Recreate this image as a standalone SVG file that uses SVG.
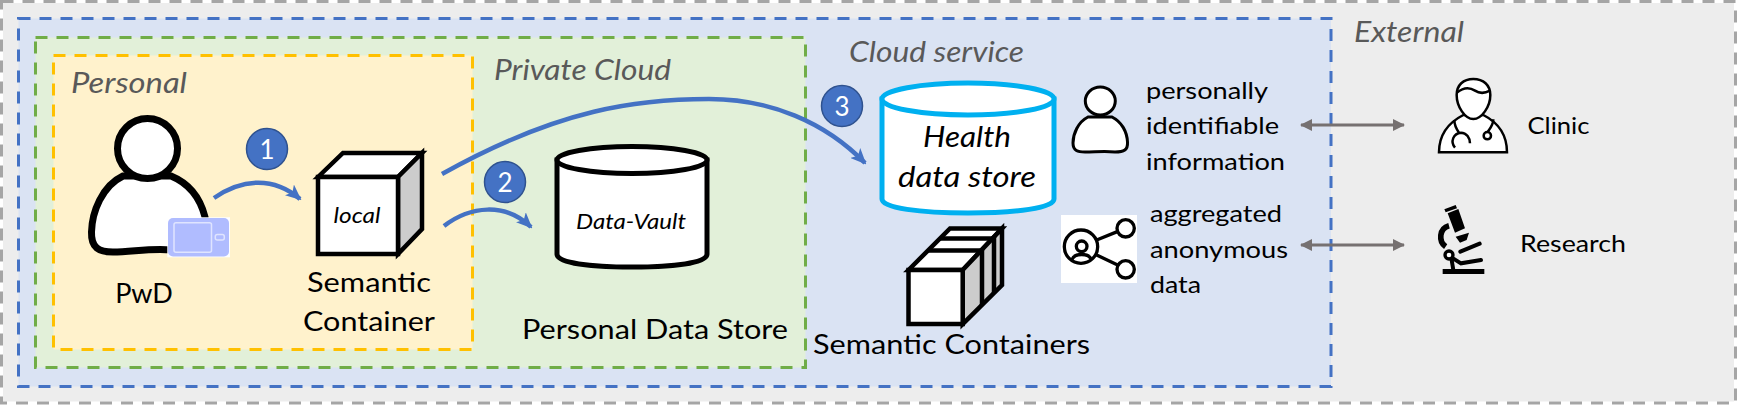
<svg xmlns="http://www.w3.org/2000/svg" width="1737" height="412" viewBox="0 0 1737 412">
<style>
text{font-family:"Lato","Liberation Sans",sans-serif;fill:#000}
.zone{stroke-width:3;stroke-dasharray:12 9}
.lab{font-style:italic;fill:#595959;font-size:28px}
.big{font-size:27px}
.mid{font-size:24px}
.it{font-style:italic;font-size:22px}
.flow{fill:none;stroke:#4472c4;stroke-width:4.5;marker-end:url(#blue)}
.num{fill:#4472c4;stroke:#2f528f;stroke-width:1.5}
.numt{fill:#fff;font-size:26px;text-anchor:middle}
.two{fill:none;stroke:#767171;stroke-width:3;marker-start:url(#greyS);marker-end:url(#grey)}
.k{stroke:#000;stroke-width:4.5;stroke-linejoin:miter}
</style>
<defs>
<marker id="blue" markerUnits="userSpaceOnUse" viewBox="0 0 16 14" refX="14" refY="7" markerWidth="16" markerHeight="14" orient="auto"><path d="M0 0L16 7L0 14L4 7z" fill="#4472c4"/></marker>
<marker id="grey" markerUnits="userSpaceOnUse" viewBox="0 0 12 12" refX="11" refY="6" markerWidth="12" markerHeight="12" orient="auto"><path d="M0 0L12 6L0 12z" fill="#767171"/></marker>
<marker id="greyS" markerUnits="userSpaceOnUse" viewBox="0 0 12 12" refX="1" refY="6" markerWidth="12" markerHeight="12" orient="auto"><path d="M12 0L0 6L12 12z" fill="#767171"/></marker>
</defs>

<g id="zone-external"><rect x="3" y="3" width="1731" height="398.500" fill="#ededed"/><rect x="1.5" y="1.5" width="1734" height="401.5" fill="none" stroke="#a5a5a5" class="zone"/><text x="1354" y="42" class="lab" textLength="110" lengthAdjust="spacingAndGlyphs">External</text></g>
<g id="zone-cloud"><rect x="18.5" y="18.5" width="1312.5" height="368" fill="#dae3f3" stroke="#4472c4" class="zone"/><text x="849" y="62" class="lab" textLength="175" lengthAdjust="spacingAndGlyphs">Cloud service</text></g>
<g id="zone-private"><rect x="35.5" y="37.5" width="770" height="330" fill="#e2f0d9" stroke="#70ad47" class="zone"/><text x="494" y="80" class="lab" textLength="177" lengthAdjust="spacingAndGlyphs">Private Cloud</text></g>
<g id="zone-personal"><rect x="53.5" y="55.5" width="419" height="294" fill="#fff2cc" stroke="#ffc000" class="zone"/><text x="71" y="93" class="lab" textLength="116" lengthAdjust="spacingAndGlyphs">Personal</text></g>

<g id="pwd">
<path d="M123 176C102 186 92 212 91.500 232C91 248 99 252 113 252C132 252 150 248 172 250L205 250L205 217C200 197 188 183 171 176Z" fill="#fff" stroke="#000" stroke-width="7"/>
<circle cx="147.500" cy="148.500" r="30" fill="#fff" stroke="#000" stroke-width="7"/>
<rect x="167.300" y="217.300" width="62.700" height="40" fill="#fff"/>
<rect x="168" y="218" width="61" height="38.500" rx="5" fill="#b0bcff"/>
<rect x="174" y="222.700" width="37.500" height="29.500" rx="2" fill="#b0bcff" stroke="#dfe4ff" stroke-width="1.500"/>
<rect x="215.300" y="234.500" width="9" height="5.500" rx="2" fill="#b0bcff" stroke="#dfe4ff" stroke-width="1.500"/>
<text x="144" y="303" class="big" text-anchor="middle">PwD</text>
</g>

<g id="semantic-container">
<path d="M318 177L343 153L422 153L398 177Z" fill="#fff" class="k"/>
<path d="M398 177L422 153L422 229L398 254Z" fill="#ccc" class="k"/>
<rect x="318" y="177" width="80" height="77" fill="#fff" class="k"/>
<text x="357" y="223" class="it" text-anchor="middle" textLength="47" lengthAdjust="spacingAndGlyphs">local</text>
<text x="369" y="292" class="big" text-anchor="middle" textLength="124" lengthAdjust="spacingAndGlyphs">Semantic</text>
<text x="369" y="331" class="big" text-anchor="middle" textLength="132" lengthAdjust="spacingAndGlyphs">Container</text>
</g>

<g id="data-vault">
<path d="M557 160V254C557 263 590 267 632 267C674 267 707 263 707 254V160Z" fill="#fff" stroke="#000" stroke-width="5"/>
<ellipse cx="632" cy="160" rx="75" ry="13.500" fill="#fff" stroke="#000" stroke-width="5"/>
<text x="631" y="229" class="it" text-anchor="middle" textLength="110" lengthAdjust="spacingAndGlyphs">Data-Vault</text>
<text x="522" y="339" class="big" textLength="266" lengthAdjust="spacingAndGlyphs">Personal Data Store</text>
</g>

<g id="health-data-store">
<path d="M882 99V199C882 208 920 213 968 213C1016 213 1054 208 1054 199V99Z" fill="#fff" stroke="#00b0f0" stroke-width="5"/>
<ellipse cx="968" cy="99" rx="86" ry="16" fill="#fff" stroke="#00b0f0" stroke-width="5"/>
<text x="967" y="147" font-size="29" font-style="italic" text-anchor="middle" textLength="88" lengthAdjust="spacingAndGlyphs">Health</text>
<text x="967" y="187" font-size="29" font-style="italic" text-anchor="middle" textLength="138" lengthAdjust="spacingAndGlyphs">data store</text>
</g>

<g id="semantic-containers">
<path d="M908.500 270L950 228.500L1002 228.500L962.700 270Z" fill="#fff" class="k"/>
<path d="M962.700 270L1002 228.500V285L962.700 324Z" fill="#ccc" class="k"/>
<path d="M928 250.500H982V305M940 238.500H994V293" fill="none" class="k"/>
<rect x="908.500" y="270" width="54.200" height="54" fill="#fff" class="k"/>
<text x="813" y="354" class="big" textLength="277" lengthAdjust="spacingAndGlyphs">Semantic Containers</text>
</g>

<g id="pii">
<path d="M1088 117C1078 122 1073 134 1073 143C1073 151 1078 152 1085 152C1095 152 1105 151 1115 152C1124 152 1128 150 1127.500 142C1127 132 1122 122 1112 117Z" fill="#fff" stroke="#000" stroke-width="3"/>
<ellipse cx="1100.300" cy="101" rx="15" ry="14" fill="#fff" stroke="#000" stroke-width="3"/>
<text x="1146" y="99" class="mid" textLength="122" lengthAdjust="spacingAndGlyphs">personally</text>
<text x="1146" y="134" class="mid" textLength="133" lengthAdjust="spacingAndGlyphs">identifiable</text>
<text x="1146" y="170" class="mid" textLength="139" lengthAdjust="spacingAndGlyphs">information</text>
</g>

<g id="anonymous">
<rect x="1061" y="215" width="76" height="68" fill="#fff"/>
<g transform="translate(1055 205) scale(.3333)" fill="none" stroke="#000" stroke-width="10">
<circle cx="78" cy="125" r="50"/><circle cx="80" cy="124" r="16"/><path d="M50 165C58 143 102 143 110 165"/>
<circle cx="212" cy="70" r="26"/><circle cx="212" cy="193" r="26"/><path d="M125 105L187 80M125 150L188 180"/>
</g>
<text x="1150" y="222" class="mid" textLength="132" lengthAdjust="spacingAndGlyphs">aggregated</text>
<text x="1150" y="258" class="mid" textLength="138" lengthAdjust="spacingAndGlyphs">anonymous</text>
<text x="1150" y="293" class="mid" textLength="51" lengthAdjust="spacingAndGlyphs">data</text>
</g>

<g id="clinic">
<g transform="translate(1425 70) scale(.3333)" stroke="#000" stroke-width="7.500" fill="#fff">
<path d="M42 247C42 195 70 158 115 135L175 135C220 158 246 195 246 247Z"/>
<path d="M95 75C95 45 115 27 145 27C175 27 196 45 196 75C196 110 170 147 145 147C120 147 95 110 95 75Z"/>
<path d="M96 68C115 52 135 52 150 62C165 72 180 70 195 62" fill="none"/>
<path d="M88 150C88 165 95 178 102 188M90 233C75 215 85 190 108 188C125 188 135 205 135 220M205 148C205 165 195 176 188 186" fill="none"/>
<circle cx="187" cy="197" r="11"/>
</g>
<text x="1527.500" y="134" class="mid" textLength="62" lengthAdjust="spacingAndGlyphs">Clinic</text>
</g>

<g id="research">
<g transform="translate(1425 195) scale(.3333)">
<path d="M58 43L92 30L96 40L62 52ZM68 55L100 42L120 100L90 113ZM92 125L132 113L125 135L105 143Z"/>
<path d="M72 92C42 100 40 140 62 155" fill="none" stroke="#000" stroke-width="17"/>
<path d="M106 170L164 146M84 190L108 205L168 195M80 195L85 225" fill="none" stroke="#000" stroke-width="12" stroke-linecap="round"/>
<rect x="53" y="222" width="125" height="15"/>
<circle cx="72" cy="180" r="12" fill="#fff" stroke="#000" stroke-width="10"/>
</g>
<text x="1520" y="252" class="mid" textLength="106" lengthAdjust="spacingAndGlyphs">Research</text>
</g>

<g id="connectors">
<path class="flow" d="M214 198C240 180 272 175 300 199"/>
<path class="flow" d="M444 226C470 206 505 202 531 227"/>
<path class="flow" d="M442 174C560 108 640 99 709 99C770 99 825 122 865 163"/>
<path class="two" d="M1301 125H1404"/>
<path class="two" d="M1301 245H1404"/>
</g>

<g id="step-1"><circle class="num" cx="267" cy="149" r="20.500"/><text class="numt" x="267" y="159">1</text></g>
<g id="step-2"><circle class="num" cx="505" cy="182" r="20.500"/><text class="numt" x="505" y="192">2</text></g>
<g id="step-3"><circle class="num" cx="842" cy="106" r="20.500"/><text class="numt" x="842" y="116">3</text></g>
</svg>
